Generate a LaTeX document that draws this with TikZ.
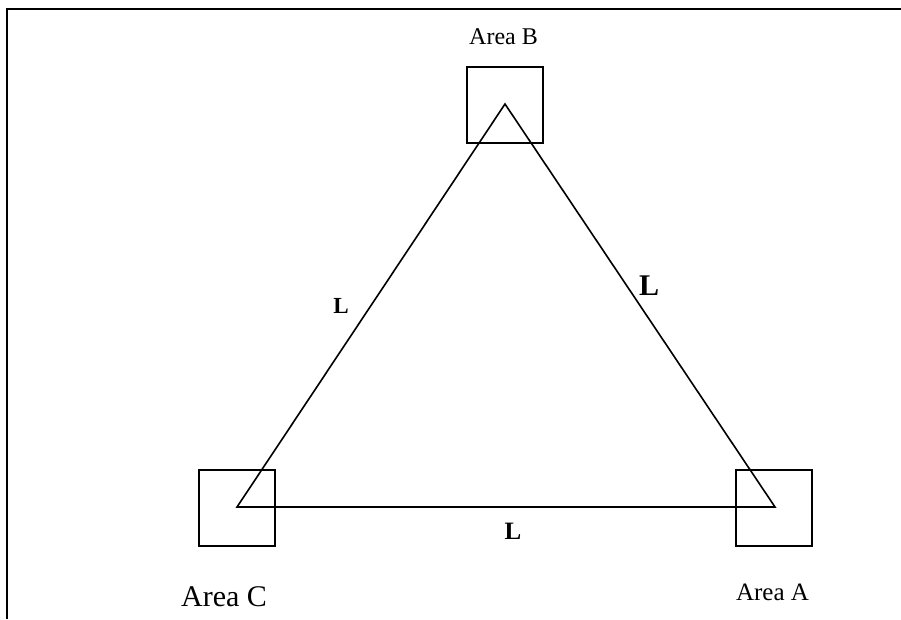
\documentclass[tikz,border=0pt]{standalone}
\usepackage{fontspec}
\setmainfont{Liberation Serif}
\begin{document}
\begin{tikzpicture}[x=1pt,y=-1pt,
  areabox/.style={draw,line width=1.7pt,minimum size=76pt,inner sep=0pt,outer sep=0pt},
  edge/.style={line width=1.6pt,line join=miter},
  lbl/.style={inner sep=0pt,anchor=base}]
\useasboundingbox (0,0) rectangle (901,619);
\draw[line width=2pt] (7,619) -- (7,9) -- (901,9);
\node[areabox] (boxB) at (505,105) {};
\node[areabox] (boxC) at (237,508) {};
\node[areabox] (boxA) at (774,508) {};
\coordinate (vB) at (505,104);
\coordinate (vC) at (237,507);
\coordinate (vA) at (775,507);
\draw[edge] (vA) -- (vB) -- (vC) -- cycle;
\node[lbl,font=\fontsize{24}{28}\selectfont] (tB) at (503.5,44) {Area B};
\node[lbl,font=\fontsize{30}{34}\selectfont] (tC) at (224,606.5) {Area C};
\node[lbl,font=\fontsize{25}{28}\selectfont] (tA) at (772.5,600.5) {Area A};
\node[lbl,font=\fontsize{23}{26}\selectfont\bfseries] (L1) at (341,313) {L};
\node[lbl,font=\fontsize{30}{34}\selectfont\bfseries] (L2) at (649,295) {L};
\node[lbl,font=\fontsize{25}{28}\selectfont\bfseries] (L3) at (513,539) {L};
\end{tikzpicture}
\end{document}
